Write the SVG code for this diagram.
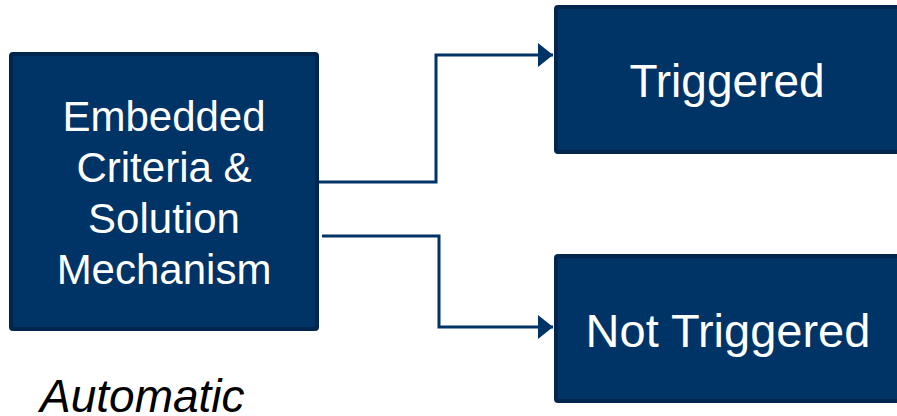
<svg xmlns="http://www.w3.org/2000/svg" width="897" height="416" viewBox="0 0 897 416">
<defs>
<style>
.box{fill:#003366;stroke:#00264d;stroke-width:4}
.lbl{fill:#ffffff;font-family:"Liberation Sans",Arial,sans-serif;text-anchor:middle}
.conn{fill:none;stroke:#003366;stroke-width:3}
</style>
<marker id="arr" markerWidth="5" markerHeight="8" refX="5" refY="4" orient="auto" markerUnits="strokeWidth">
<path d="M0,0 L5,4 L0,8 Z" fill="#003366"/>
</marker>
</defs>
<rect width="897" height="416" fill="#ffffff"/>
<g id="connectors">
<path class="conn" d="M318,182 H436 V55 H553" marker-end="url(#arr)"/>
<path class="conn" d="M322,236 H439 V327 H553" marker-end="url(#arr)"/>
</g>
<g id="node-embedded">
<rect class="box" x="11" y="54" width="306" height="275" rx="2"/>
<text class="lbl" font-size="42" x="164" y="131">Embedded</text>
<text class="lbl" font-size="42" x="164" y="182">Criteria &amp;</text>
<text class="lbl" font-size="42" x="164" y="233">Solution</text>
<text class="lbl" font-size="42" x="164" y="284">Mechanism</text>
</g>
<g id="node-triggered">
<rect class="box" x="556" y="7" width="346" height="145" rx="2"/>
<text class="lbl" font-size="46" x="727" y="97">Triggered</text>
</g>
<g id="node-not-triggered">
<rect class="box" x="556" y="256" width="346" height="145" rx="2"/>
<text class="lbl" font-size="47" x="728" y="347">Not Triggered</text>
</g>
<g id="caption">
<text x="40" y="412" font-size="46" font-style="italic" font-family="'Liberation Sans',Arial,sans-serif" fill="#000000">Automatic</text>
</g>
</svg>
